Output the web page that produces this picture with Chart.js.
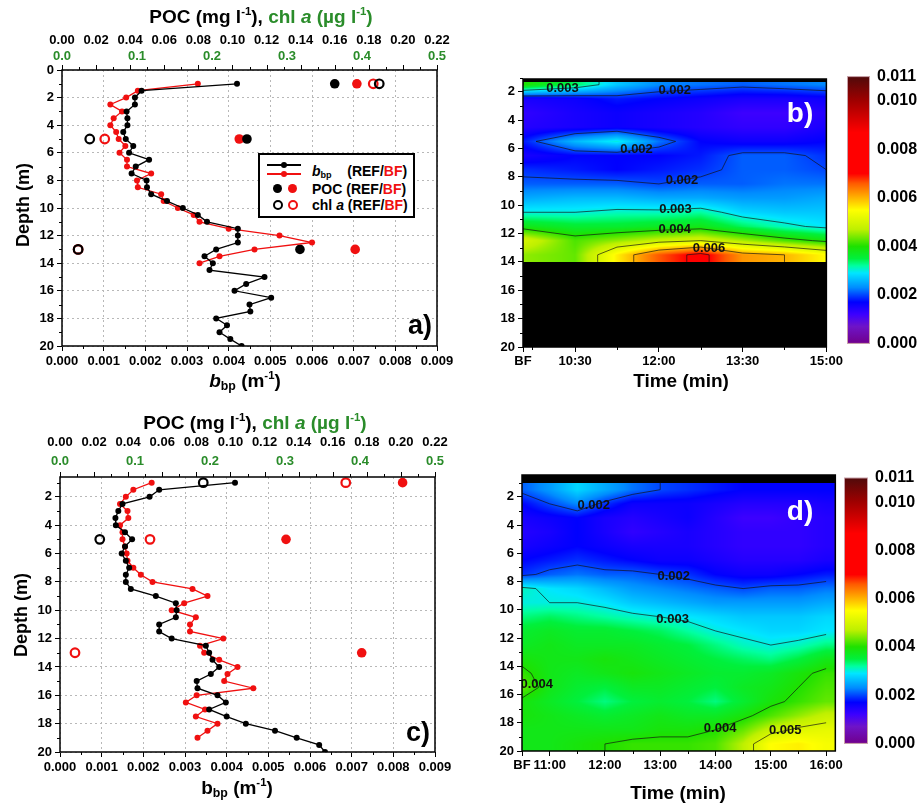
<!DOCTYPE html>
<html>
<head>
<meta charset="utf-8">
<script src="https://cdn.jsdelivr.net/npm/chart.js@4.4.1/dist/chart.umd.min.js"></script>
<style>
  body { margin: 0; width: 921px; height: 805px; position: relative; overflow: hidden; background: #fff;
         font-family: "Liberation Sans", Arial, sans-serif; }
  canvas { position: absolute; }
  .t { position: absolute; font-weight: bold; white-space: nowrap; color: #000; transform: translate(-50%, -50%); }
  .t sup { font-size: 0.6em; vertical-align: 0.7em; line-height: 0; }
  .t sub { font-size: 0.65em; vertical-align: -0.25em; line-height: 0; }
  .g { color: #2a8c2a; }
  .r { color: #f01010; }
  .rot { transform: translate(-50%, -50%) rotate(-90deg); }
  .lg { position: absolute; border: 2px solid #000; background: #fff; box-sizing: border-box; }
  .lg div { position: absolute; }
  .ln { height: 1.5px; width: 34px; }
  .dot { border-radius: 50%; }
  .lgt { font-weight: bold; font-size: 14px; white-space: nowrap; line-height: 16px; }
  .lgt sub { font-size: 0.65em; vertical-align: -0.25em; line-height: 0; }
</style>
</head>
<body>
<canvas id="cA" width="460" height="400" style="left:0;top:0"></canvas>
<canvas id="cC" width="460" height="405" style="left:0;top:400px"></canvas>
<canvas id="cB" width="375" height="340" style="left:470px;top:60px"></canvas>
<canvas id="cbB" width="74" height="300" style="left:847px;top:60px"></canvas>
<canvas id="cD" width="375" height="345" style="left:470px;top:460px"></canvas>
<canvas id="cbD" width="77" height="300" style="left:844px;top:460px"></canvas>

<div class="t" style="left:261px;top:17px;font-size:19px">POC (mg l<sup>-1</sup>), <span class="g">chl <i>a</i> (µg l<sup>-1</sup>)</span></div>
<div class="t rot" style="left:23px;top:205px;font-size:18px">Depth (m)</div>
<div class="t" style="left:245px;top:381px;font-size:19px"><i>b</i><sub>bp</sub> (m<sup>-1</sup>)</div>
<div class="t" style="left:420px;top:325px;font-size:27px">a)</div>

<div class="lg" style="left:258px;top:153px;width:157px;height:65px">
  <div class="ln" style="left:7px;top:9px;background:#000"></div>
  <div class="dot" style="left:21px;top:7px;width:6px;height:6px;background:#000"></div>
  <div class="ln" style="left:7px;top:18px;background:#f01010"></div>
  <div class="dot" style="left:21px;top:16px;width:6px;height:6px;background:#f01010"></div>
  <div class="lgt" style="left:52px;top:8px"><i>b</i><sub>bp</sub>&nbsp;&nbsp;&nbsp;&nbsp;(REF/<span class="r">BF</span>)</div>
  <div class="dot" style="left:13px;top:29px;width:9px;height:9px;background:#000"></div>
  <div class="dot" style="left:28px;top:29px;width:9px;height:9px;background:#f01010"></div>
  <div class="lgt" style="left:52px;top:26px">POC (REF/<span class="r">BF</span>)</div>
  <div class="dot" style="left:13px;top:45px;width:6px;height:6px;border:2px solid #000"></div>
  <div class="dot" style="left:28px;top:45px;width:6px;height:6px;border:2px solid #f01010"></div>
  <div class="lgt" style="left:52px;top:42px">chl <i>a</i> (REF/<span class="r">BF</span>)</div>
</div>

<div class="t" style="left:255px;top:423px;font-size:19px">POC (mg l<sup>-1</sup>), <span class="g">chl <i>a</i> (µg l<sup>-1</sup>)</span></div>
<div class="t rot" style="left:21px;top:615px;font-size:18px">Depth (m)</div>
<div class="t" style="left:237px;top:788px;font-size:19px">b<sub>bp</sub> (m<sup>-1</sup>)</div>
<div class="t" style="left:418px;top:732px;font-size:27px">c)</div>

<div class="t" style="left:681px;top:381px;font-size:19px">Time (min)</div>
<div class="t" style="left:800px;top:113px;font-size:28px;color:#fff">b)</div>
<div class="t" style="left:678px;top:793px;font-size:19px">Time (min)</div>
<div class="t" style="left:800px;top:511px;font-size:28px;color:#fff">d)</div>

<script>
// ---------- panel a: profiles (REF = black, BF = red) ----------
const depthRefA = [1, 1.5, 2, 2.5, 3, 3.5, 4, 4.5, 5, 5.5, 6, 6.5, 7, 7.5, 8, 8.5, 9, 9.5, 10, 10.5,
  11, 11.5, 12, 12.5, 13, 13.5, 14, 14.5, 15, 15.5, 16, 16.5, 17, 17.5, 18, 18.5, 19, 19.5, 20];
const bbpRefA = [0.00420, 0.00191, 0.00175, 0.00175, 0.00155, 0.00157, 0.00157, 0.00147, 0.00153, 0.00171,
  0.00161, 0.00209, 0.00177, 0.00167, 0.00203, 0.00204, 0.00214, 0.00252, 0.00290, 0.00326,
  0.00348, 0.00422, 0.00422, 0.00422, 0.00370, 0.00342, 0.00362, 0.00354, 0.00486, 0.00442,
  0.00414, 0.00502, 0.00450, 0.00452, 0.00370, 0.00396, 0.00378, 0.00404, 0.00431];
const depthBfA = [1, 1.5, 2, 2.5, 3, 3.5, 4, 4.5, 5, 5.5, 6, 6.5, 7, 7.5, 8, 8.5, 9, 9.5, 10, 10.5,
  11, 11.5, 12, 12.5, 13, 13.5, 14];
const bbpBfA = [0.00326, 0.00182, 0.00154, 0.00116, 0.00144, 0.00124, 0.00116, 0.00130, 0.00136, 0.00152,
  0.00138, 0.00156, 0.00156, 0.00214, 0.00180, 0.00182, 0.00238, 0.00244, 0.00278, 0.00316,
  0.00330, 0.00400, 0.00522, 0.00600, 0.00462, 0.00378, 0.00330];
const sampleDepthA = [1, 5, 13];
const pocRefA = [0.160, 0.1085, 0.1396];
const pocBfA = [0.173, 0.104, 0.172];
const chlRefA = [0.423, 0.037, 0.0215];
const chlBfA = [0.415, 0.057, 0.0215];

// ---------- panel c ----------
const depthRefC = depthRefA.slice();
const bbpRefC = [0.00420, 0.00238, 0.00215, 0.00150, 0.00140, 0.00133, 0.00134, 0.00156, 0.00173, 0.00156,
  0.00148, 0.00158, 0.00166, 0.00158, 0.00158, 0.00170, 0.00230, 0.00278, 0.00280, 0.00278,
  0.00238, 0.00238, 0.00268, 0.00350, 0.00358, 0.00366, 0.00382, 0.00362, 0.00328, 0.00330,
  0.00378, 0.00398, 0.00358, 0.00400, 0.00446, 0.00516, 0.00568, 0.00622, 0.00636];
const depthBfC = [1, 1.5, 2, 2.5, 3, 3.5, 4, 4.5, 5, 5.5, 6, 6.5, 7, 7.5, 8, 8.5, 9, 9.5, 10, 10.5,
  11, 11.5, 12, 12.5, 13, 13.5, 14, 14.5, 15, 15.5, 16, 16.5, 17, 17.5, 18, 18.5, 19];
const bbpBfC = [0.00220, 0.00176, 0.00158, 0.00144, 0.00162, 0.00164, 0.00144, 0.00150, 0.00150, 0.00156,
  0.00160, 0.00162, 0.00176, 0.00194, 0.00222, 0.00318, 0.00354, 0.00298, 0.00268, 0.00326,
  0.00312, 0.00312, 0.00392, 0.00336, 0.00346, 0.00382, 0.00426, 0.00402, 0.00394, 0.00464,
  0.00328, 0.00302, 0.00348, 0.00326, 0.00378, 0.00354, 0.00330];
const pocDepthBfC = [1, 5, 13];
const pocBfC = [0.201, 0.1326, 0.177];
const chlDepthRefC = [1, 5];
const chlRefC = [0.191, 0.053];
const chlDepthBfC = [1, 5, 13];
const chlBfC = [0.381, 0.12, 0.02];

// ---------- panel b: bbp section, time (minutes of day) x depth ----------
const timesB = [574, 630, 675, 720, 765, 810, 855, 900];
const depthsB = [1.5, 2.5, 3.5, 4.5, 5.5, 6.5, 7.5, 8.5, 9.5, 10.5, 11.5, 12.5, 13.5];
const gridB = [
  [0.0040, 0.0034, 0.0027, 0.0023, 0.0022, 0.0021, 0.0022, 0.0023],
  [0.0015, 0.0016, 0.0018, 0.0017, 0.0016, 0.0015, 0.0015, 0.0016],
  [0.0013, 0.0015, 0.0016, 0.0015, 0.0014, 0.0012, 0.0012, 0.0014],
  [0.0014, 0.0015, 0.0016, 0.0015, 0.0014, 0.0013, 0.0013, 0.0015],
  [0.0018, 0.0026, 0.0030, 0.0022, 0.0017, 0.0016, 0.0016, 0.0017],
  [0.0015, 0.0017, 0.0017, 0.0017, 0.0018, 0.0021, 0.0021, 0.0019],
  [0.0019, 0.0018, 0.0017, 0.0018, 0.0019, 0.0021, 0.0021, 0.0020],
  [0.0021, 0.0021, 0.0021, 0.0020, 0.0021, 0.0021, 0.0022, 0.0022],
  [0.0025, 0.0026, 0.0026, 0.0025, 0.0025, 0.0024, 0.0024, 0.0025],
  [0.0030, 0.0030, 0.0031, 0.0031, 0.0032, 0.0028, 0.0027, 0.0027],
  [0.0038, 0.0036, 0.0036, 0.0037, 0.0038, 0.0034, 0.0031, 0.0029],
  [0.0050, 0.0042, 0.0045, 0.0048, 0.0050, 0.0046, 0.0042, 0.0039],
  [0.0045, 0.0043, 0.0056, 0.0066, 0.0072, 0.0062, 0.0060, 0.0055]
];
const dataTopB = 1.3, dataBottomB = 14;

// ---------- panel d ----------
const timesD = [630, 660, 690, 720, 750, 780, 810, 840, 870, 900, 930, 960];
const depthsD = [1.5, 2.5, 3.5, 4.5, 5.5, 6.5, 7.5, 8.5, 9.5, 10.5, 11.5, 12.5, 13.5, 14.5, 15.5, 16.5, 17.5, 18.5, 19.5];
const gridD = [
  [0.0021, 0.0024, 0.0028, 0.0025, 0.0022, 0.0020, 0.0019, 0.0018, 0.0017, 0.0017, 0.0017, 0.0017],
  [0.0017, 0.0020, 0.0023, 0.0019, 0.0016, 0.0016, 0.0016, 0.0015, 0.0014, 0.0014, 0.0014, 0.0015],
  [0.0015, 0.0016, 0.0017, 0.0015, 0.0014, 0.0015, 0.0016, 0.0014, 0.0012, 0.0012, 0.0013, 0.0014],
  [0.0014, 0.0015, 0.0017, 0.0015, 0.0013, 0.0014, 0.0015, 0.0014, 0.0013, 0.0013, 0.0013, 0.0014],
  [0.0015, 0.0016, 0.0017, 0.0016, 0.0015, 0.0015, 0.0015, 0.0014, 0.0013, 0.0013, 0.0013, 0.0014],
  [0.0017, 0.0018, 0.0019, 0.0018, 0.0017, 0.0016, 0.0016, 0.0015, 0.0014, 0.0014, 0.0014, 0.0015],
  [0.0019, 0.0021, 0.0022, 0.0021, 0.0021, 0.0020, 0.0019, 0.0017, 0.0016, 0.0016, 0.0017, 0.0018],
  [0.0031, 0.0029, 0.0028, 0.0026, 0.0024, 0.0023, 0.0022, 0.0021, 0.0020, 0.0021, 0.0021, 0.0022],
  [0.0030, 0.0030, 0.0030, 0.0029, 0.0027, 0.0026, 0.0025, 0.0024, 0.0024, 0.0024, 0.0024, 0.0025],
  [0.0033, 0.0034, 0.0033, 0.0032, 0.0031, 0.0030, 0.0029, 0.0028, 0.0027, 0.0027, 0.0027, 0.0028],
  [0.0036, 0.0037, 0.0036, 0.0036, 0.0035, 0.0034, 0.0032, 0.0030, 0.0029, 0.0028, 0.0028, 0.0029],
  [0.0037, 0.0038, 0.0037, 0.0037, 0.0037, 0.0036, 0.0035, 0.0033, 0.0031, 0.0030, 0.0031, 0.0033],
  [0.0039, 0.0038, 0.0038, 0.0039, 0.0038, 0.0037, 0.0036, 0.0035, 0.0034, 0.0033, 0.0035, 0.0038],
  [0.0041, 0.0038, 0.0037, 0.0038, 0.0039, 0.0038, 0.0037, 0.0036, 0.0036, 0.0037, 0.0039, 0.0041],
  [0.0043, 0.0038, 0.0036, 0.0035, 0.0037, 0.0037, 0.0036, 0.0035, 0.0037, 0.0038, 0.0040, 0.0042],
  [0.0039, 0.0037, 0.0035, 0.0033, 0.0035, 0.0036, 0.0035, 0.0033, 0.0036, 0.0039, 0.0041, 0.0043],
  [0.0039, 0.0038, 0.0037, 0.0036, 0.0037, 0.0038, 0.0037, 0.0037, 0.0039, 0.0042, 0.0045, 0.0048],
  [0.0038, 0.0038, 0.0038, 0.0038, 0.0038, 0.0039, 0.0039, 0.0040, 0.0043, 0.0048, 0.0051, 0.0052],
  [0.0038, 0.0038, 0.0039, 0.0040, 0.0041, 0.0041, 0.0041, 0.0042, 0.0047, 0.0055, 0.0056, 0.0054]
];
const dataTopD = 1.0, dataBottomD = 20;

// ---------- ticks ----------
const bbpTicks = [0, 0.001, 0.002, 0.003, 0.004, 0.005, 0.006, 0.007, 0.008, 0.009];
const bbpMinor = [0.0005, 0.0015, 0.0025, 0.0035, 0.0045, 0.0055, 0.0065, 0.0075, 0.0085];
const pocTicks = [0, 0.02, 0.04, 0.06, 0.08, 0.10, 0.12, 0.14, 0.16, 0.18, 0.20, 0.22];
const pocMinor = [0.01, 0.03, 0.05, 0.07, 0.09, 0.11, 0.13, 0.15, 0.17, 0.19, 0.21];
const chlTicks = [0, 0.1, 0.2, 0.3, 0.4, 0.5];
const depthTicksA = [0, 2, 4, 6, 8, 10, 12, 14, 16, 18, 20];
const depthTicks = [2, 4, 6, 8, 10, 12, 14, 16, 18, 20];
const depthMinor = [1, 3, 5, 7, 9, 11, 13, 15, 17, 19];
const timeTicksB = [574, 630, 720, 810, 900];
const timeLabelsB = ["BF", "10:30", "12:00", "13:30", "15:00"];
const timeMinorB = [584, 675, 765, 855];
const timeTicksD = [630, 660, 720, 780, 840, 900, 960];
const timeLabelsD = ["BF", "11:00", "12:00", "13:00", "14:00", "15:00", "16:00"];
const timeMinorD = [690, 750, 810, 870, 930];
const cbarTicks = [0, 0.002, 0.004, 0.006, 0.008, 0.010, 0.011];
const contourLevels = [0.002, 0.003, 0.004, 0.005, 0.006, 0.007];

// ---------- styling helpers ----------
const FONT = "'Liberation Sans', Arial, sans-serif";
const RED = "#f01010";
const GREEN = "#2a8c2a";
const cmap = [
  [0.0000, [112, 0, 140]], [0.0007, [110, 20, 200]], [0.0012, [60, 0, 255]], [0.0017, [0, 0, 255]],
  [0.0023, [0, 140, 255]], [0.0029, [0, 230, 255]], [0.0032, [0, 255, 160]], [0.0035, [0, 240, 60]],
  [0.0040, [30, 225, 0]], [0.0047, [190, 240, 0]], [0.0055, [255, 255, 0]], [0.0060, [255, 180, 0]],
  [0.0066, [255, 90, 0]], [0.0070, [255, 0, 0]], [0.0087, [255, 0, 0]], [0.0100, [160, 0, 0]],
  [0.0110, [80, 10, 10]]
];

function colorFor(v) {
  if (v <= cmap[0][0]) return cmap[0][1];
  for (let i = 1; i < cmap.length; i++) {
    if (v <= cmap[i][0]) {
      const [v0, c0] = cmap[i - 1], [v1, c1] = cmap[i];
      const f = (v - v0) / (v1 - v0);
      return [0, 1, 2].map((k) => c0[k] + (c1[k] - c0[k]) * f);
    }
  }
  return cmap[cmap.length - 1][1];
}

function fixTicks(values) {
  return (scale) => { scale.ticks = values.map((v) => ({ value: v })); };
}

function pts(xs, ys) {
  return xs.map((x, i) => ({ x, y: ys[i] }));
}

const framePlugin = {
  id: "frame",
  afterDraw(chart) {
    const { ctx, chartArea: a } = chart;
    ctx.save();
    ctx.strokeStyle = "#000";
    ctx.lineWidth = 1.5;
    ctx.strokeRect(a.left, a.top, a.right - a.left, a.bottom - a.top);
    ctx.restore();
  },
};

// short outward tick marks: [scaleId, side, values, length]
function makeMinor(list) {
  return {
    id: "minor",
    afterDraw(chart) {
      const { ctx, chartArea: a } = chart;
      ctx.save();
      ctx.strokeStyle = "#000";
      ctx.lineWidth = 1;
      list.forEach(([id, side, values, len]) => {
        const s = chart.scales[id];
        values.forEach((v) => {
          const p = Math.round(s.getPixelForValue(v)) + 0.5;
          ctx.beginPath();
          if (side === "bottom") { ctx.moveTo(p, a.bottom); ctx.lineTo(p, a.bottom + len); }
          if (side === "top") { ctx.moveTo(p, a.top); ctx.lineTo(p, a.top - len); }
          if (side === "left") { ctx.moveTo(a.left, p); ctx.lineTo(a.left - len, p); }
          ctx.stroke();
        });
      });
      ctx.restore();
    },
  };
}

function locate(arr, v) {
  const n = arr.length - 1;
  if (v <= arr[0]) return [0, 0];
  if (v >= arr[n]) return [n - 1, 1];
  let i = 0;
  while (arr[i + 1] < v) i++;
  return [i, (v - arr[i]) / (arr[i + 1] - arr[i])];
}

// extends the grid with its edge rows so the fill reaches the data limits
function extendGrid(depths, grid, top, bottom) {
  const d = depths.slice(), g = grid.slice();
  if (top < d[0]) { d.unshift(top); g.unshift(grid[0]); }
  if (bottom > d[d.length - 1]) { d.push(bottom); g.push(grid[grid.length - 1]); }
  return { d, g };
}

function contourSegments(times, depths, grid, level) {
  const segs = [];
  const cross = (va, vb) => (va >= level) !== (vb >= level);
  const lerp = (p, q, va, vb) => p + (q - p) * (level - va) / (vb - va);
  for (let j = 0; j < depths.length - 1; j++) {
    for (let i = 0; i < times.length - 1; i++) {
      const a = grid[j][i], b = grid[j][i + 1], c = grid[j + 1][i + 1], d = grid[j + 1][i];
      const t0 = times[i], t1 = times[i + 1], d0 = depths[j], d1 = depths[j + 1];
      const p = {};
      if (cross(a, b)) p.top = [lerp(t0, t1, a, b), d0];
      if (cross(b, c)) p.right = [t1, lerp(d0, d1, b, c)];
      if (cross(d, c)) p.bottom = [lerp(t0, t1, d, c), d1];
      if (cross(a, d)) p.left = [t0, lerp(d0, d1, a, d)];
      const k = Object.keys(p);
      if (k.length === 2) segs.push([p[k[0]], p[k[1]]]);
      else if (k.length === 4) {
        const m = (a + b + c + d) / 4;
        if ((a >= level) === (m >= level)) segs.push([p.top, p.right], [p.bottom, p.left]);
        else segs.push([p.left, p.top], [p.right, p.bottom]);
      }
    }
  }
  return segs;
}

// joins segments into polylines
function chain(segs) {
  const key = (p) => p[0].toFixed(5) + "," + p[1].toFixed(5);
  const byKey = new Map();
  segs.forEach((s, i) => s.forEach((p) => {
    const k = key(p);
    if (!byKey.has(k)) byKey.set(k, []);
    byKey.get(k).push(i);
  }));
  const unused = new Set(segs.map((_, i) => i));
  const lines = [];
  while (unused.size) {
    const first = unused.values().next().value;
    unused.delete(first);
    const line = [segs[first][0], segs[first][1]];
    [true, false].forEach((fwd) => {
      let grow = true;
      while (grow) {
        grow = false;
        const end = fwd ? line[line.length - 1] : line[0];
        for (const idx of byKey.get(key(end)) || []) {
          if (!unused.has(idx)) continue;
          unused.delete(idx);
          const s = segs[idx];
          const nxt = key(s[0]) === key(end) ? s[1] : s[0];
          if (fwd) line.push(nxt); else line.unshift(nxt);
          grow = true;
          break;
        }
      }
    });
    lines.push(line);
  }
  return lines;
}

function makeHeat(times, depths, grid, top, bottom) {
  const ext = extendGrid(depths, grid, top, bottom);
  return {
    id: "heat",
    beforeDatasetsDraw(chart) {
      const { ctx, chartArea: a, scales: { x, y } } = chart;
      ctx.save();
      ctx.fillStyle = "#000";
      ctx.fillRect(a.left, a.top, a.right - a.left, a.bottom - a.top);
      const x0 = Math.round(a.left), x1 = Math.round(a.right);
      const y0 = Math.max(Math.round(a.top), Math.round(y.getPixelForValue(top)));
      const y1 = Math.min(Math.round(a.bottom), Math.round(y.getPixelForValue(bottom)));
      const w = x1 - x0, h = y1 - y0;
      const img = ctx.createImageData(w, h);
      const cols = [];
      for (let i = 0; i < w; i++) cols.push(locate(times, x.getValueForPixel(x0 + i + 0.5)));
      const g = ext.g;
      for (let j = 0; j < h; j++) {
        const [r, fy] = locate(ext.d, y.getValueForPixel(y0 + j + 0.5));
        for (let i = 0; i < w; i++) {
          const [c, fx] = cols[i];
          const v = (g[r][c] * (1 - fx) + g[r][c + 1] * fx) * (1 - fy) +
                    (g[r + 1][c] * (1 - fx) + g[r + 1][c + 1] * fx) * fy;
          const col = colorFor(v);
          const o = (j * w + i) * 4;
          img.data[o] = col[0]; img.data[o + 1] = col[1]; img.data[o + 2] = col[2]; img.data[o + 3] = 255;
        }
      }
      ctx.putImageData(img, x0, y0);
      ctx.beginPath();
      ctx.rect(a.left, a.top, a.right - a.left, a.bottom - a.top);
      ctx.clip();
      ctx.strokeStyle = "rgba(20,20,20,0.85)";
      ctx.lineWidth = 0.8;
      ctx.fillStyle = "#111";
      ctx.font = `bold 13px ${FONT}`;
      ctx.textAlign = "center";
      ctx.textBaseline = "middle";
      const placed = [];
      contourLevels.forEach((lv) => {
        chain(contourSegments(times, ext.d, ext.g, lv)).forEach((line) => {
          const px = line.map((p) => [x.getPixelForValue(p[0]), y.getPixelForValue(p[1])]);
          ctx.beginPath();
          px.forEach((p, i) => (i ? ctx.lineTo(p[0], p[1]) : ctx.moveTo(p[0], p[1])));
          ctx.stroke();
          let len = 0;
          const cum = [0];
          for (let i = 1; i < px.length; i++) {
            len += Math.hypot(px[i][0] - px[i - 1][0], px[i][1] - px[i - 1][1]);
            cum.push(len);
          }
          if (len < 45) return;
          const half = len / 2;
          let k = 1;
          while (k < cum.length - 1 && cum[k] < half) k++;
          const f = (half - cum[k - 1]) / Math.max(1e-6, cum[k] - cum[k - 1]);
          const lx = px[k - 1][0] + (px[k][0] - px[k - 1][0]) * f;
          const ly = px[k - 1][1] + (px[k][1] - px[k - 1][1]) * f;
          if (placed.some(([qx, qy]) => Math.abs(qx - lx) < 42 && Math.abs(qy - ly) < 13)) return;
          placed.push([lx, ly]);
          ctx.fillText(lv.toFixed(3), lx, ly);
        });
      });
      ctx.restore();
    },
  };
}

function makeBar() {
  return {
    id: "cbar",
    beforeDatasetsDraw(chart) {
      const { ctx, chartArea: a, scales: { y } } = chart;
      const p0 = y.getPixelForValue(cbarTicks[0]);
      const p1 = y.getPixelForValue(cbarTicks[cbarTicks.length - 1]);
      const grad = ctx.createLinearGradient(0, p0, 0, p1);
      const span = cbarTicks[cbarTicks.length - 1];
      cmap.forEach(([v, c]) => grad.addColorStop(v / span, `rgb(${c[0]},${c[1]},${c[2]})`));
      ctx.save();
      ctx.fillStyle = grad;
      ctx.fillRect(a.left + 0.5, p1, a.right - a.left - 1, p0 - p1);
      ctx.strokeStyle = "#c8a0a8";
      ctx.lineWidth = 1;
      ctx.strokeRect(a.left + 0.5, p1, a.right - a.left - 1, p0 - p1);
      ctx.restore();
    },
  };
}

const tickFont = { family: FONT, weight: "bold", size: 13 };
const base = {
  responsive: false,
  animation: false,
  events: [],
  plugins: { legend: { display: false }, tooltip: { enabled: false } },
};

function profileChart(id, cfg) {
  new Chart(document.getElementById(id), {
    type: "scatter",
    data: { datasets: cfg.datasets },
    options: {
      ...base,
      layout: { padding: { left: 0, right: cfg.padRight, top: 0, bottom: 0 } },
      scales: {
        x: {
          type: "linear", position: "bottom", min: 0, max: 0.009,
          afterBuildTicks: fixTicks(bbpTicks),
          afterFit: (s) => { s.height = cfg.bottomH; },
          ticks: { font: tickFont, color: "#000", padding: 3, maxRotation: 0, autoSkip: false,
                   callback: (v) => v.toFixed(3) },
          grid: { color: "#b8b8b8", lineWidth: 1, tickColor: "#000", tickLength: 5, tickBorderDash: [] },
          border: { display: false, dash: [2, 3] },
        },
        xPoc: {
          type: "linear", position: "top", min: 0, max: 0.22, weight: 2,
          afterBuildTicks: fixTicks(pocTicks),
          afterFit: (s) => { s.height = cfg.pocH; },
          ticks: { font: tickFont, color: "#000", padding: 0, maxRotation: 0, autoSkip: false,
                   callback: (v) => v.toFixed(2) },
          grid: { display: false, drawTicks: false, tickLength: 0 },
          border: { display: false },
        },
        xChl: {
          type: "linear", position: "top", min: 0, max: 0.5, weight: 1,
          afterBuildTicks: fixTicks(chlTicks),
          afterFit: (s) => { s.height = cfg.chlH; },
          ticks: { font: tickFont, color: GREEN, padding: cfg.chlPad, maxRotation: 0, autoSkip: false,
                   callback: (v) => v.toFixed(1) },
          grid: { display: false, drawTicks: false, tickLength: 0 },
          border: { display: false },
        },
        y: {
          type: "linear", reverse: true, min: cfg.yMin, max: 20,
          afterBuildTicks: fixTicks(cfg.yTicks),
          afterFit: (s) => { s.width = cfg.leftW; },
          ticks: { font: tickFont, color: "#000", padding: 3 },
          grid: { color: "#b8b8b8", lineWidth: 1, tickColor: "#000", tickLength: 5, tickBorderDash: [] },
          border: { display: false, dash: [2, 3] },
        },
      },
    },
    plugins: [framePlugin, makeMinor([
      ["x", "bottom", bbpMinor, 3],
      ["xPoc", "top", pocTicks, 5],
      ["xPoc", "top", pocMinor, 3],
      ["y", "left", depthMinor, 3],
    ])],
  });
}

function lineSet(xs, ys, color) {
  return { data: pts(xs, ys), showLine: true, borderColor: color, borderWidth: 1.3,
           pointRadius: 3, pointBackgroundColor: color, pointBorderColor: color, pointBorderWidth: 0 };
}
function dotSet(xs, ys, color, axis) {
  return { data: pts(xs, ys), xAxisID: axis, showLine: false, pointRadius: 4.8,
           pointBackgroundColor: color, pointBorderColor: color, pointBorderWidth: 0 };
}
function ringSet(xs, ys, color, axis) {
  return { data: pts(xs, ys), xAxisID: axis, showLine: false, pointRadius: 4.3,
           pointBackgroundColor: "rgba(0,0,0,0)", pointBorderColor: color, pointBorderWidth: 2.2 };
}

profileChart("cA", {
  padRight: 23, bottomH: 54, pocH: 48, chlH: 22, chlPad: 6, leftW: 62, yMin: 0, yTicks: depthTicksA,
  datasets: [
    lineSet(bbpRefA, depthRefA, "#000"),
    lineSet(bbpBfA, depthBfA, RED),
    dotSet(pocRefA, sampleDepthA, "#000", "xPoc"),
    dotSet(pocBfA, sampleDepthA, RED, "xPoc"),
    ringSet(chlRefA, sampleDepthA, "#000", "xChl"),
    ringSet(chlBfA, sampleDepthA, RED, "xChl"),
  ],
});

profileChart("cC", {
  padRight: 25, bottomH: 53, pocH: 50, chlH: 27, chlPad: 8, leftW: 60, yMin: 0.6, yTicks: depthTicks,
  datasets: [
    lineSet(bbpRefC, depthRefC, "#000"),
    lineSet(bbpBfC, depthBfC, RED),
    dotSet(pocBfC, pocDepthBfC, RED, "xPoc"),
    ringSet(chlRefC, chlDepthRefC, "#000", "xChl"),
    ringSet(chlBfC, chlDepthBfC, RED, "xChl"),
  ],
});

function sectionChart(id, cfg) {
  new Chart(document.getElementById(id), {
    type: "scatter",
    data: { datasets: [] },
    options: {
      ...base,
      layout: { padding: { left: 0, right: cfg.padRight, top: cfg.padTop, bottom: 0 } },
      scales: {
        x: {
          type: "linear", min: cfg.tMin, max: cfg.tMax,
          afterBuildTicks: fixTicks(cfg.tTicks),
          afterFit: (s) => { s.height = cfg.bottomH; },
          ticks: { font: tickFont, color: "#000", padding: 2, maxRotation: 0, autoSkip: false,
                   callback: (v, i) => cfg.tLabels[i] },
          grid: { drawOnChartArea: false, tickColor: "#000", tickLength: 5 },
          border: { display: false },
        },
        y: {
          type: "linear", reverse: true, min: cfg.dMin, max: 20,
          afterBuildTicks: fixTicks(depthTicks),
          afterFit: (s) => { s.width = cfg.leftW; },
          ticks: { font: tickFont, color: "#000", padding: 3 },
          grid: { drawOnChartArea: false, tickColor: "#000", tickLength: 5 },
          border: { display: false },
        },
      },
    },
    plugins: [makeHeat(cfg.times, cfg.depths, cfg.grid, cfg.top, cfg.bottom), framePlugin,
              makeMinor([["x", "bottom", cfg.tMinor, 3], ["y", "left", depthMinor, 3]])],
  });
}

function colorbarChart(id, cfg) {
  new Chart(document.getElementById(id), {
    type: "scatter",
    data: { datasets: [] },
    options: {
      ...base,
      layout: { padding: { left: 0, right: 0, top: cfg.padTop, bottom: cfg.padBottom } },
      scales: {
        x: { display: false, min: 0, max: 1 },
        y: {
          type: "linear", position: "right", min: 0, max: 0.011,
          afterBuildTicks: fixTicks(cbarTicks),
          afterFit: (s) => { s.width = cfg.axisW; },
          ticks: { font: { family: FONT, weight: "bold", size: 16 }, color: "#000", padding: 7,
                   callback: (v) => v.toFixed(3) },
          grid: { display: false, drawTicks: false, tickLength: 0 },
          border: { display: false },
        },
      },
    },
    plugins: [makeBar()],
  });
}

sectionChart("cB", {
  padRight: 7, padTop: 19, bottomH: 53, leftW: 53, tMin: 574, tMax: 900, dMin: 1.1,
  tTicks: timeTicksB, tLabels: timeLabelsB, tMinor: timeMinorB,
  times: timesB, depths: depthsB, grid: gridB, top: dataTopB, bottom: dataBottomB,
});
sectionChart("cD", {
  padRight: 9, padTop: 15, bottomH: 54, leftW: 52, tMin: 630, tMax: 970, dMin: 0.46,
  tTicks: timeTicksD, tLabels: timeLabelsD, tMinor: timeMinorD,
  times: timesD, depths: depthsD, grid: gridD, top: dataTopD, bottom: dataBottomD,
});
colorbarChart("cbB", { padTop: 13, padBottom: 12, axisW: 51 });
colorbarChart("cbD", { padTop: 18, padBottom: 9, axisW: 53 });
</script>
</body>
</html>
